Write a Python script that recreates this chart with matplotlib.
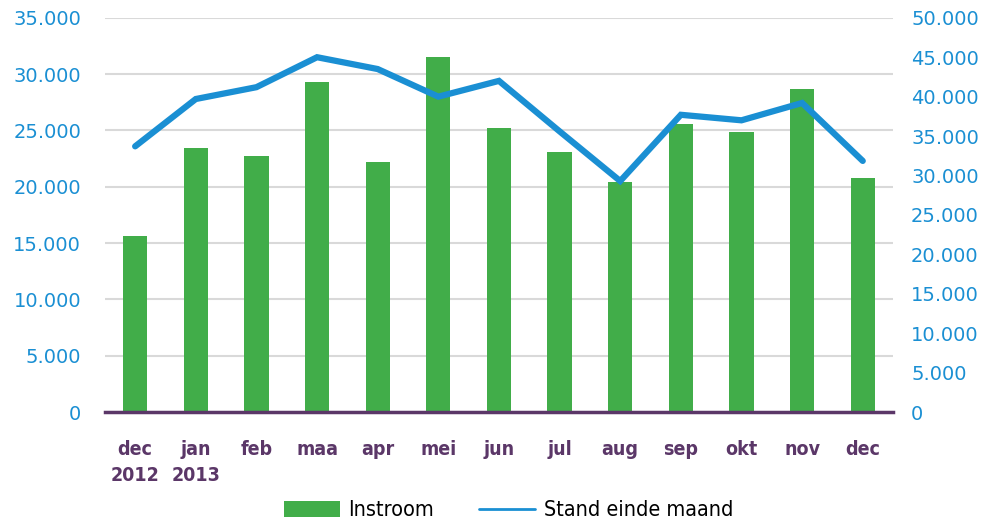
import numpy as np
import matplotlib.pyplot as plt
from matplotlib.ticker import FuncFormatter

# data
maanden = ['dec\n2012', 'jan\n2013', 'feb', 'maa', 'apr', 'mei', 'jun', 'jul',
           'aug', 'sep', 'okt', 'nov', 'dec']
instroom = [15600, 23450, 22750, 29300, 22200, 31550, 25200, 23100,
            20400, 25550, 24850, 28700, 20750]
stand = [33700, 39700, 41200, 45000, 43500, 40000, 42000, 35600,
         29300, 37700, 37000, 39200, 31850]

groen = '#41AD49'
blauw = '#1A8FD3'
paars = '#5B3768'

def punt(v, pos):
    return '{:,.0f}'.format(v).replace(',', '.')

fig = plt.figure(figsize=(9.89, 5.23), dpi=100)
ax = fig.add_axes([0.106, 0.212, 0.797, 0.754])
ax2 = ax.twinx()

x = np.arange(len(maanden))
bars = ax.bar(x, instroom, width=0.4, color=groen, zorder=2, label='Instroom')
lijn, = ax2.plot(x, stand, color=blauw, lw=4.5, solid_joinstyle='miter',
                 solid_capstyle='round', zorder=3, label='Stand einde maand')

ax.set_xlim(-0.5, len(maanden) - 0.5)
ax.set_ylim(0, 35000)
ax2.set_ylim(0, 50000)
ax.set_yticks(np.arange(0, 35001, 5000))
ax2.set_yticks(np.arange(0, 50001, 5000))
ax.yaxis.set_major_formatter(FuncFormatter(punt))
ax2.yaxis.set_major_formatter(FuncFormatter(punt))
ax.grid(axis='y', color='#D9D9D9', lw=1.5, zorder=0)
ax.set_axisbelow(True)

for a in (ax, ax2):
    for s in a.spines.values():
        s.set_visible(False)
    a.tick_params(axis='y', length=0, labelcolor=blauw, labelsize=14)
ax.tick_params(axis='y', pad=17)
ax2.tick_params(axis='y', pad=13)
ax.spines['bottom'].set_visible(True)
ax.spines['bottom'].set_color(paars)
ax.spines['bottom'].set_linewidth(2.5)

ax.set_xticks(x)
ax.set_xticklabels(maanden, color=paars, fontweight='bold', fontsize=14,
                   fontstretch='condensed', linespacing=1.45)
ax.tick_params(axis='x', length=0, pad=20)

leg = fig.legend([bars, lijn], ['Instroom', 'Stand einde maand'], loc='lower center',
                 bbox_to_anchor=(0.514, -0.032), ncol=2, frameon=False,
                 prop={'size': 15.5, 'stretch': 'condensed'},
                 handlelength=2.6, handleheight=0.8, columnspacing=2.1,
                 handletextpad=0.4)
for h in leg.get_lines():
    h.set_linewidth(2)

fig.savefig('out.png', dpi=100)
